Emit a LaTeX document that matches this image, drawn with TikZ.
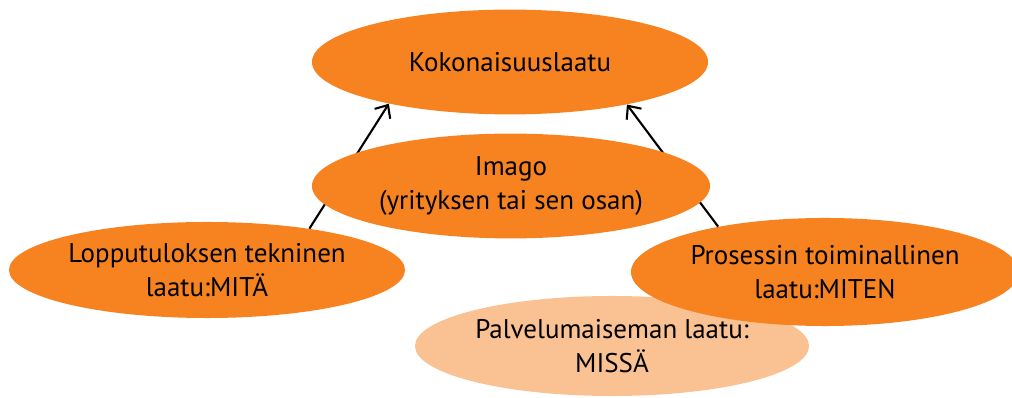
\documentclass[tikz,border=0pt]{standalone}
\usepackage{fontspec}
\setmainfont{PT Sans}
\usepackage{xcolor}
\usetikzlibrary{shapes.geometric,arrows.meta}

\definecolor{oranssi}{RGB}{246,130,32}
\definecolor{persikka}{RGB}{250,193,146}

\tikzset{
  pallo/.style={ellipse,fill=oranssi,inner sep=0pt,align=center,
    font=\fontsize{19.2}{24}\selectfont},
  nuoli/.style={-{Straight Barb[length=2.6mm,width=4.6mm]},line width=1.5pt}
}

\begin{document}
\begin{tikzpicture}[x=0.025cm,y=-0.025cm]
    \useasboundingbox (0,0) rectangle (1012,398);
    % ylin taso
    \node[pallo,minimum width=9.9cm,minimum height=2.62cm] (koko) at (510,62) {Kokonaisuuslaatu};
    % alemmat pallot, vaalea ensin taakse
    \node[pallo,fill=persikka,minimum width=9.85cm,minimum height=2.5cm] (missa) at (612,346)
      {Palvelumaiseman laatu:\\MISSÄ};
    \node[pallo,minimum width=9.9cm,minimum height=2.4cm] (mita) at (207,270)
      {Lopputuloksen tekninen\\laatu:MITÄ};
    \node[pallo,minimum width=9.7cm,minimum height=2.7cm] (miten) at (825,272)
      {Prosessin toiminallinen\\laatu:MITEN};
    % nuolet kulkevat imagon alta
    \draw[nuoli] (mita.22) -- (koko.199);
    \draw[nuoli] (miten.157) -- (koko.340);
    \node[pallo,minimum width=9.95cm,minimum height=2.62cm] (imago) at (511,186)
      {Imago\\(yrityksen tai sen osan)};
  \end{tikzpicture}
\end{document}
